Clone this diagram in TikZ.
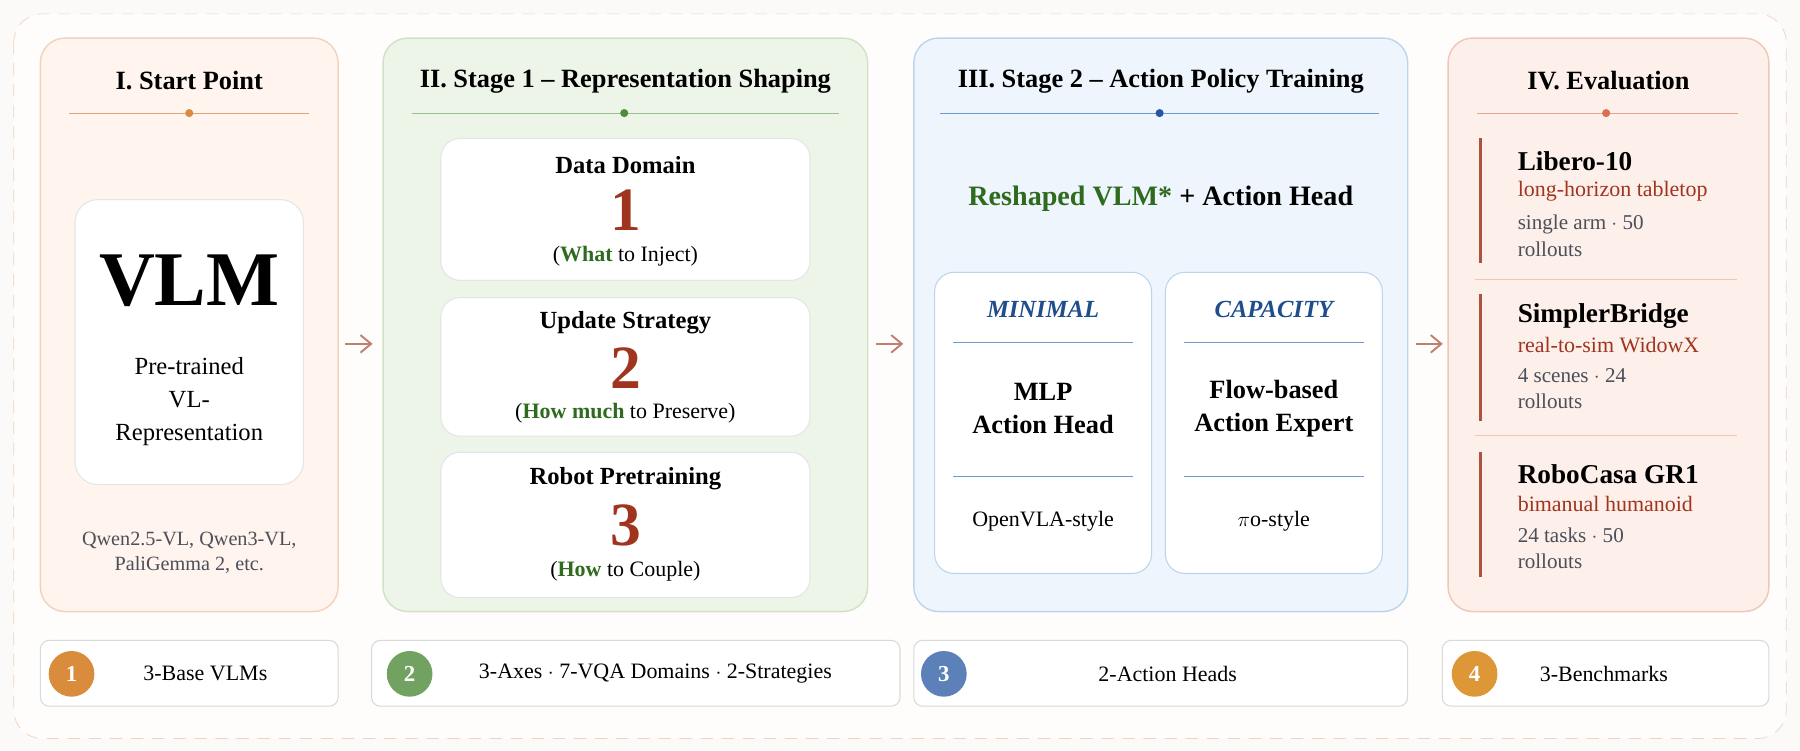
\documentclass[tikz,border=0pt]{standalone}
\usepackage{fontspec}
\setmainfont{Liberation Serif}
\usepackage{tikz}
\usetikzlibrary{arrows.meta}
\definecolor{orfill}{HTML}{FFF5EE}\definecolor{ordraw}{HTML}{F2D2BA}\definecolor{orline}{HTML}{D9A77A}\definecolor{ordot}{HTML}{D98C3C}
\definecolor{grfill}{HTML}{EDF4E8}\definecolor{grdraw}{HTML}{D0E2C6}\definecolor{grline}{HTML}{9CC08A}\definecolor{grdot}{HTML}{4E8B3A}
\definecolor{blfill}{HTML}{EEF5FC}\definecolor{bldraw}{HTML}{BCD5EE}\definecolor{blline}{HTML}{6B9BD0}\definecolor{bldot}{HTML}{2457A0}
\definecolor{rdfill}{HTML}{FDF0EA}\definecolor{rddraw}{HTML}{F0C6B6}\definecolor{rdline}{HTML}{E2A690}\definecolor{rddot}{HTML}{D9704F}
\definecolor{numred}{HTML}{A0341E}\definecolor{txgreen}{HTML}{2E6B1E}\definecolor{txblue}{HTML}{1F4E8C}\definecolor{txgray}{HTML}{4A4F5A}
\definecolor{arr}{HTML}{C08070}\definecolor{bg}{HTML}{FCFAF8}
\tikzset{
  panel/.style={rounded corners=14pt,line width=0.8pt},
  card/.style={draw=black!10,fill=white,rounded corners=11pt,line width=0.6pt},
  title/.style={font=\bfseries\fontsize{15}{17}\selectfont},
  subtitle/.style={font=\bfseries\fontsize{14}{16}\selectfont},
  body/.style={font=\fontsize{12.5}{15}\selectfont,align=center},
  bignum/.style={font=\bfseries\fontsize{35}{37}\selectfont,text=numred},
  evtitle/.style={font=\bfseries\fontsize{15.5}{17}\selectfont,anchor=west},
  evsub/.style={font=\fontsize{12.5}{15}\selectfont,text=numred,anchor=west},
  evdet/.style={font=\fontsize{12}{15}\selectfont,text=txgray,anchor=north west,align=left},
  flowarrow/.style={arr,-{Straight Barb[length=6pt,width=10pt]},line width=1.1pt},
  badge/.style={circle,minimum size=26pt,inner sep=0pt,text=white,font=\bfseries\fontsize{13}{15}\selectfont},
  bottom/.style={draw=black!15,fill=white,rounded corners=5pt,line width=0.6pt}
}
\begin{document}
\begin{tikzpicture}[x=0.023077cm,y=-0.023077cm]
\useasboundingbox (0,0) rectangle (1560,650);
\fill[bg] (0,0) rectangle (1560,650);
\draw[ordraw,dash pattern=on 7pt off 5pt,rounded corners=16pt,fill=white!60!bg] (12,12) rectangle (1548,640);

% panels
\draw[panel,draw=ordraw,fill=orfill] (35,33) rectangle (293,530);
\draw[panel,draw=grdraw,fill=grfill] (332,33) rectangle (752,530);
\draw[panel,draw=bldraw,fill=blfill] (792,33) rectangle (1220,530);
\draw[panel,draw=rddraw,fill=rdfill] (1255,33) rectangle (1533,530);

% titles
\node[title] (t1) at (164,70) {I. Start Point};
\node[title] (t2) at (542,70) {II. Stage 1 -- Representation Shaping};
\node[title] (t3) at (1006,70) {III. Stage 2 -- Action Policy Training};
\node[title] (t4) at (1394,70) {IV. Evaluation};
\draw[orline] (60,98) -- (268,98); \fill[ordot] (164,98) circle (3.5);
\draw[grline] (357,98) -- (727,98); \fill[grdot] (541,98) circle (3.5);
\draw[blline] (815,98) -- (1195,98); \fill[bldot] (1005,98) circle (3.5);
\draw[rdline] (1280,98) -- (1506,98); \fill[rddot] (1392,98) circle (3.5);

% I. start point
\draw[card,rounded corners=13pt] (65,173) rectangle (263,420);
\node[font=\bfseries\fontsize{44}{46}\selectfont] (vlm) at (164,243) {VLM};
\node[body,font=\fontsize{14}{19}\selectfont] (rep) at (164,348) {Pre-trained\\VL-\\Representation};
\node[body,text=txgray,font=\fontsize{11.5}{14.5}\selectfont] (base) at (164,479) {Qwen2.5-VL, Qwen3-VL,\\PaliGemma 2, etc.};

% II. stage 1
\draw[card] (382,120) rectangle (702,243);
\draw[card] (382,258) rectangle (702,378);
\draw[card] (382,392) rectangle (702,518);
\node[subtitle] (a1) at (542,143) {Data Domain};
\node[bignum] (n1) at (542,182) {1};
\node[body] (q1) at (542,222) {(\textcolor{txgreen}{\textbf{What}} to Inject)};
\node[subtitle] (a2) at (542,280) {Update Strategy};
\node[bignum] (n2) at (542,319) {2};
\node[body] (q2) at (542,358) {(\textcolor{txgreen}{\textbf{How much}} to Preserve)};
\node[subtitle] (a3) at (542,415) {Robot Pretraining};
\node[bignum] (n3) at (542,455) {3};
\node[body] (q3) at (542,495) {(\textcolor{txgreen}{\textbf{How}} to Couple)};

% III. stage 2
\node[title,font=\bfseries\fontsize{16}{18}\selectfont] (head) at (1006,172) {\textcolor{txgreen}{Reshaped VLM*} + Action Head};
\draw[card,draw=bldraw] (810,236) rectangle (998,497);
\draw[card,draw=bldraw] (1010,236) rectangle (1198,497);
\node[font=\bfseries\itshape\fontsize{14}{16}\selectfont,text=txblue] (m1) at (904,268) {MINIMAL};
\node[font=\bfseries\itshape\fontsize{14}{16}\selectfont,text=txblue] (m2) at (1104,268) {CAPACITY};
\draw[blline,line width=0.8pt] (826,297) -- (982,297) (826,413) -- (982,413);
\draw[blline,line width=0.8pt] (1026,297) -- (1182,297) (1026,413) -- (1182,413);
\node[title,align=center,font=\bfseries\fontsize{15}{18.5}\selectfont] (h1) at (904,354) {MLP\\Action Head};
\node[title,align=center,font=\bfseries\fontsize{15}{18.5}\selectfont] (h2) at (1104,354) {Flow-based\\Action Expert};
\node[body] (s1) at (904,452) {OpenVLA-style};
\node[body] (s2) at (1104,452) {$\pi$o-style};

% IV. evaluation
\foreach \y/\b in {120/228,255/365,392/500}
  \draw[numred!85,line width=1.5pt] (1283,\y) -- (1283,\b);
\draw[rddraw] (1278,242) -- (1505,242) (1278,377) -- (1505,377);
\node[evtitle] (e1) at (1310,140) {Libero-10};
\node[evsub] (r1) at (1310,166) {long-horizon tabletop};
\node[evdet] (d1) at (1310,181) {single arm $\cdot$ 50\\rollouts};
\node[evtitle] (e2) at (1310,274) {SimplerBridge};
\node[evsub] (r2) at (1310,299) {real-to-sim WidowX};
\node[evdet] (d2) at (1310,314) {4 scenes $\cdot$ 24\\rollouts};
\node[evtitle] (e3) at (1310,411) {RoboCasa GR1};
\node[evsub] (r3) at (1310,437) {bimanual humanoid};
\node[evdet] (d3) at (1310,452) {24 tasks $\cdot$ 50\\rollouts};

% arrows between panels
\coordinate (p1) at (293,298); \coordinate (p2) at (332,298);
\coordinate (p3) at (752,298); \coordinate (p4) at (792,298);
\coordinate (p5) at (1220,298); \coordinate (p6) at (1255,298);
\draw[flowarrow] ([xshift=4]p1) -- ([xshift=-6]p2);
\draw[flowarrow] ([xshift=5]p3) -- ([xshift=-6]p4);
\draw[flowarrow] ([xshift=5]p5) -- ([xshift=-3]p6);

% bottom bar
\draw[bottom] (35,555) rectangle (293,612);
\draw[bottom] (322,555) rectangle (780,612);
\draw[bottom] (792,555) rectangle (1220,612);
\draw[bottom] (1250,555) rectangle (1533,612);
\node[badge,fill=ordot] (b1) at (62,584) {1};
\node[badge,fill=grdot!80] (b2) at (355,584) {2};
\node[badge,fill=bldot!75] (b3) at (818,584) {3};
\node[badge,fill=ordot!90!yellow] (b4) at (1278,584) {4};
\node[body] (l1) at (178,584) {3-Base VLMs};
\node[body] (l2) at (568,584) {3-Axes $\cdot$ 7-VQA Domains $\cdot$ 2-Strategies};
\node[body] (l3) at (1012,584) {2-Action Heads};
\node[body] (l4) at (1390,584) {3-Benchmarks};
\end{tikzpicture}
\end{document}
